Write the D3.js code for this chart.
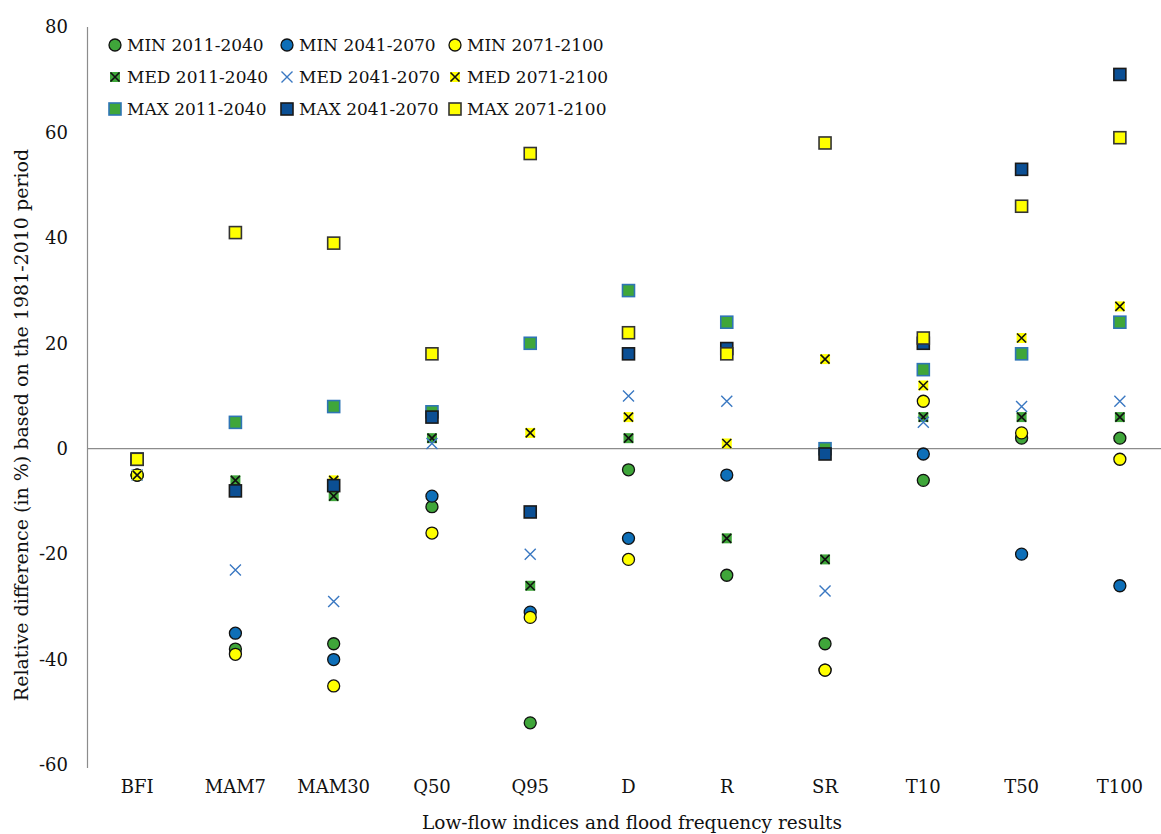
<!DOCTYPE html>
<html>
<head>
<meta charset="utf-8">
<script src="https://cdn.jsdelivr.net/npm/d3@7/dist/d3.min.js"></script>
<style>
  html, body { margin: 0; padding: 0; background: #fff; }
  svg { display: block; }
  text { font-family: "DejaVu Serif", "Liberation Serif", serif; fill: #111; }
</style>
</head>
<body>
<svg id="chart" width="1161" height="834"></svg>
<script>
// Indices on the horizontal axis
const categories = ["BFI", "MAM7", "MAM30", "Q50", "Q95", "D", "R", "SR", "T10", "T50", "T100"];

// Relative differences (%) per scenario and period; null = no marker
const min2011 = [-5, -38, -37, -11, -52, -4, -24, -37, -6, 2, 2];
const min2041 = [-5, -35, -40, -9, -31, -17, -5, -42, -1, -20, -26];
const min2071 = [-5, -39, -45, -16, -32, -21, null, -42, 9, 3, -2];
const med2011 = [-5, -6, -9, 2, -26, 2, -17, -21, 6, 6, 6];
const med2041 = [-5, -23, -29, 1, -20, 10, 9, -27, 5, 8, 9];
const med2071 = [-5, -8, -6, 6, 3, 6, 1, 17, 12, 21, 27];
const max2011 = [-2, 5, 8, 7, 20, 30, 24, 0, 15, 18, 24];
const max2041 = [-2, -8, -7, 6, -12, 18, 19, -1, 20, 53, 71];
const max2071 = [-2, 41, 39, 18, 56, 22, 18, 58, 21, 46, 59];

const yTicks = [-60, -40, -20, 0, 20, 40, 60, 80];

const GREEN = "#3fa63a", BLUE = "#0e6fb8", NAVY = "#0b4f94", YELLOW = "#ffff00", XBLUE = "#3a78c2";

const series = [
  { name: "MIN 2011-2040", values: min2011, shape: "circle", fill: GREEN, stroke: "#111" },
  { name: "MIN 2041-2070", values: min2041, shape: "circle", fill: BLUE, stroke: "#111" },
  { name: "MIN 2071-2100", values: min2071, shape: "circle", fill: YELLOW, stroke: "#111" },
  { name: "MED 2011-2040", values: med2011, shape: "xbox", fill: GREEN, stroke: "#111" },
  { name: "MED 2041-2070", values: med2041, shape: "x", fill: "none", stroke: XBLUE },
  { name: "MED 2071-2100", values: med2071, shape: "xbox", fill: YELLOW, stroke: "#111" },
  { name: "MAX 2011-2040", values: max2011, shape: "square", fill: GREEN, stroke: "#2f75b5" },
  { name: "MAX 2041-2070", values: max2041, shape: "square", fill: NAVY, stroke: "#1a1a1a" },
  { name: "MAX 2071-2100", values: max2071, shape: "square", fill: YELLOW, stroke: "#333" }
];

const svg = d3.select("#chart");
const W = 1161, H = 834;

const x = d3.scaleBand().domain(categories).range([88, 1169]).padding(0);
const y = d3.scaleLinear().domain([-60, 80]).range([765, 27]);

const axisColor = "#8c8c8c";

// Vertical axis line and tick labels
svg.append("line")
  .attr("x1", 87.5).attr("x2", 87.5)
  .attr("y1", y(80)).attr("y2", y(-60) + 3)
  .attr("stroke", axisColor).attr("stroke-width", 1.2);

svg.append("g").selectAll("text").data(yTicks).join("text")
  .attr("x", 68).attr("y", d => y(d))
  .attr("dy", "0.35em")
  .attr("text-anchor", "end")
  .attr("font-size", 18)
  .text(d => d);

// Zero reference line
svg.append("line")
  .attr("x1", 87).attr("x2", W)
  .attr("y1", y(0)).attr("y2", y(0))
  .attr("stroke", axisColor).attr("stroke-width", 1.2);

// Category labels along the bottom
const xAxis = d3.axisBottom(x).tickSize(0).tickPadding(0);
const gx = svg.append("g").attr("transform", `translate(0, ${y(-60) + 15})`).call(xAxis);
gx.select(".domain").remove();
gx.selectAll("text")
  .attr("font-size", 18)
  .attr("font-family", "DejaVu Serif, Liberation Serif, serif")
  .attr("fill", "#111")
  .attr("dy", "0.71em");

// Axis titles
svg.append("text")
  .attr("x", 632).attr("y", 829)
  .attr("text-anchor", "middle")
  .attr("font-size", 18.5)
  .text("Low-flow indices and flood frequency results");

svg.append("text")
  .attr("transform", "translate(28, 425) rotate(-90)")
  .attr("text-anchor", "middle")
  .attr("font-size", 19)
  .text("Relative difference (in %) based on the 1981-2010 period");

// Marker drawing
function drawMarker(g, s) {
  if (s.shape === "circle") {
    g.append("circle").attr("r", 6)
      .attr("fill", s.fill).attr("stroke", s.stroke).attr("stroke-width", 1.3);
  } else if (s.shape === "square") {
    g.append("rect").attr("x", -6).attr("y", -6).attr("width", 12).attr("height", 12)
      .attr("fill", s.fill).attr("stroke", s.stroke).attr("stroke-width", 1.6);
  } else if (s.shape === "xbox") {
    g.append("rect").attr("x", -5).attr("y", -5).attr("width", 10).attr("height", 10)
      .attr("fill", s.fill);
    g.append("path").attr("d", "M-4.5,-4.5L4.5,4.5M-4.5,4.5L4.5,-4.5")
      .attr("stroke", s.stroke).attr("stroke-width", 1.6).attr("fill", "none");
  } else if (s.shape === "x") {
    g.append("path").attr("d", "M-5.5,-5.5L5.5,5.5M-5.5,5.5L5.5,-5.5")
      .attr("stroke", s.stroke).attr("stroke-width", 1.4).attr("fill", "none");
  }
}

const plot = svg.append("g");
series.forEach(s => {
  const pts = categories.map((c, i) => ({ c, v: s.values[i] })).filter(d => d.v !== null);
  plot.append("g").selectAll("g").data(pts).join("g")
    .attr("transform", d => `translate(${x(d.c) + x.bandwidth() / 2}, ${y(d.v)})`)
    .each(function () { drawMarker(d3.select(this), s); });
});

// Legend: three rows by three columns
const colX = [115, 287, 455];
const rowY = [45, 77, 109];
const legend = svg.append("g");
series.forEach((s, i) => {
  const cx = colX[i % 3], cy = rowY[Math.floor(i / 3)];
  const g = legend.append("g").attr("transform", `translate(${cx}, ${cy})`);
  drawMarker(g, s);
  g.append("text").attr("x", 12).attr("y", 0).attr("dy", "0.35em")
    .attr("font-size", 17).text(s.name);
});
</script>
</body>
</html>
